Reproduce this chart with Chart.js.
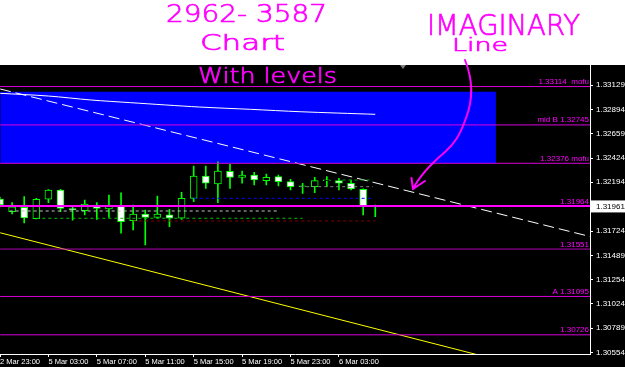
<!DOCTYPE html>
<html>
<head>
<meta charset="utf-8">
<script src="https://cdn.jsdelivr.net/npm/chart.js@4.4.1/dist/chart.umd.min.js"></script>
<style>
  html, body { margin: 0; padding: 0; background: #fff; }
  #wrap { width: 625px; height: 367px; }
</style>
</head>
<body>
<div id="wrap"><canvas id="chart"></canvas></div>
<script>
// H1 candles, 2 Mar 23:00 .. 6 Mar 06:00
const opens  = [1.32032, 1.31910, 1.31953, 1.31843, 1.32030, 1.32119, 1.31940, 1.31920, 1.31975, 1.31936, 1.31965, 1.31824, 1.31888, 1.31856, 1.31879, 1.31847,
                1.32039, 1.32254, 1.32177, 1.32299, 1.32241, 1.32263, 1.32209, 1.32247, 1.32199, 1.32150, 1.32151, 1.32208, 1.32209, 1.32184, 1.32126, 1.31965];
const highs  = [1.32052, 1.31997, 1.32055, 1.32040, 1.32122, 1.32125, 1.31958, 1.32023, 1.31997, 1.32071, 1.32093, 1.31975, 1.31927, 1.32061, 1.31933, 1.32097,
                1.32350, 1.32350, 1.32391, 1.32366, 1.32302, 1.32289, 1.32273, 1.32263, 1.32222, 1.32184, 1.32241, 1.32247, 1.32232, 1.32215, 1.32130, 1.31975];
const lows   = [1.31956, 1.31888, 1.31802, 1.31840, 1.31997, 1.31910, 1.31830, 1.31879, 1.31837, 1.31856, 1.31703, 1.31734, 1.31590, 1.31847, 1.31766, 1.31837,
                1.32007, 1.32135, 1.31997, 1.32135, 1.32184, 1.32167, 1.32167, 1.32158, 1.32119, 1.32087, 1.32093, 1.32151, 1.32119, 1.32119, 1.31879, 1.31862];
const closes = [1.31975, 1.31958, 1.31850, 1.32030, 1.32119, 1.31943, 1.31930, 1.31984, 1.31943, 1.31975, 1.31814, 1.31888, 1.31856, 1.31888, 1.31847, 1.32039,
                1.32254, 1.32184, 1.32302, 1.32241, 1.32263, 1.32215, 1.32241, 1.32199, 1.32151, 1.32160, 1.32209, 1.32216, 1.32184, 1.32129, 1.31965, 1.31961];

const timeTicks  = [0, 4, 8, 12, 16, 20, 24, 28];
const timeLabels = ['2 Mar 23:00', '5 Mar 03:00', '5 Mar 07:00', '5 Mar 11:00', '5 Mar 15:00', '5 Mar 19:00', '5 Mar 23:00', '6 Mar 03:00'];
const priceTicks = [1.33129, 1.32894, 1.32659, 1.32424, 1.32194, 1.31724, 1.31489, 1.31254, 1.31024, 1.30789, 1.30554];
const lastPrice  = 1.31961;

// horizontal levels drawn on the chart
const levelValues = [1.33114, 1.32745, 1.32376, 1.31964, 1.31551, 1.31095, 1.30726];
const levelNames  = ['1.33114  mofu', 'mid B 1.32745', '1.32376 mofu', '1.31964', '1.31551', 'A 1.31095', '1.30726'];

// supply zone rectangle
const zoneTop = 1.33065, zoneBottom = 1.32376, zoneEnd = 40.97;

// trend lines: [x0, y0, x1, y1]
const imaginaryLine = [0, 1.33091, 49, 1.31664];
const yellowLine    = [0, 1.31708, 49, 1.30250];
const avgX = [0, 4, 7.5, 10.8, 16.5, 20.7, 24.8, 31];
const avgY = [1.33049, 1.33023, 1.32985, 1.32959, 1.32917, 1.32895, 1.32872, 1.32847];

// short dotted order lines
const orderPrices = [1.31917, 1.31847, 1.31821, 1.32039, 1.32151, 1.32215];
const orderFrom   = [0.8, 3, 11, 16, 24.8, 28.3];
const orderTo     = [22.9, 25, 31, 30.7, 30.8, 30.8];

const notes = ['2962- 3587', 'Chart', 'With levels', 'IMAGINARY', 'Line'];

const lime = '#00ff00';
const orderColors = ['#c0c0c0', '#00c000', '#800000', '#0000ff', '#808080', '#00a000'];
const levelColors = ['#d800d8', '#d800d8', '#d800d8', '#ff00ff', '#b000b0', '#d800d8', '#d800d8'];
const axisFont = '"Liberation Sans", Arial, sans-serif';

const seg = (x0, y0, x1, y1) => [{ x: x0, y: y0 }, { x: x1, y: y1 }];

const datasets = [];

datasets.push({
  type: 'line', order: 20,
  data: seg(-1, zoneTop, zoneEnd, zoneTop),
  borderWidth: 0, pointRadius: 0,
  backgroundColor: '#0000ff',
  fill: { value: zoneBottom }
});
datasets.push({
  type: 'line', order: 15,
  data: avgX.map((x, i) => ({ x: x, y: avgY[i] })),
  borderColor: '#ffffff', borderWidth: 1, pointRadius: 0, tension: 0.3
});
datasets.push({
  type: 'line', order: 14,
  data: seg(...imaginaryLine),
  borderColor: '#ffffff', borderWidth: 1, borderDash: [11, 5], pointRadius: 0
});
datasets.push({
  type: 'line', order: 13,
  data: seg(...yellowLine),
  borderColor: '#ffff00', borderWidth: 1, pointRadius: 0
});

orderPrices.forEach((p, i) => {
  datasets.push({
    type: 'line', order: 4,
    data: seg(orderFrom[i], p, orderTo[i], p),
    borderColor: orderColors[i], borderWidth: 1, borderDash: [3, 3], pointRadius: 0
  });
});

// wicks
datasets.push({
  type: 'bar', order: 6,
  data: lows.map((l, i) => ({ x: i, y: [l, highs[i]] })),
  backgroundColor: lime, borderWidth: 0, barThickness: 1, grouped: false
});
// bodies: white = down, black = up
datasets.push({
  type: 'bar', order: 5,
  data: opens.map((o, i) => ({ x: i, y: [o, closes[i]] })),
  backgroundColor: opens.map((o, i) => closes[i] < o ? '#ffffff' : '#000000'),
  borderColor: lime, borderWidth: 1, borderSkipped: false,
  barThickness: 7, grouped: false
});

levelValues.forEach((v, i) => {
  datasets.push({
    type: 'line', order: 2,
    data: seg(-1, v, 50, v),
    borderColor: levelColors[i], borderWidth: v === 1.31964 ? 2 : 1, pointRadius: 0
  });
});

const backdrop = {
  id: 'backdrop',
  beforeDraw(chart) {
    const { ctx, width, height, chartArea } = chart;
    ctx.save();
    ctx.fillStyle = '#ffffff';
    ctx.fillRect(0, 0, width, height);
    ctx.fillStyle = '#000000';
    ctx.fillRect(0, chartArea.top, width, height - chartArea.top);
    ctx.restore();
  }
};

const levelTags = {
  id: 'levelTags',
  afterDatasetsDraw(chart) {
    const { ctx, chartArea, scales } = chart;
    ctx.save();
    ctx.font = '8px ' + axisFont;
    ctx.textAlign = 'right';
    ctx.textBaseline = 'alphabetic';
    levelValues.forEach((v, i) => {
      const y = scales.y.getPixelForValue(v);
      ctx.fillStyle = '#ff00ff';
      ctx.fillText(levelNames[i], chartArea.right - 1, y - 2.5);
    });
    // shift marker
    ctx.fillStyle = '#808080';
    ctx.beginPath();
    ctx.moveTo(400, chartArea.top);
    ctx.lineTo(406, chartArea.top);
    ctx.lineTo(403, chartArea.top + 4);
    ctx.closePath();
    ctx.fill();
    ctx.restore();
  }
};

function scrawl(ctx, text, left, right, baseline, size) {
  ctx.font = '200 ' + size + 'px "DejaVu Sans ExtraLight", "DejaVu Sans", sans-serif';
  const w = ctx.measureText(text).width;
  ctx.save();
  ctx.translate(left, baseline);
  ctx.scale((right - left) / w, 1);
  ctx.fillText(text, 0, 0);
  ctx.lineWidth = 0.7;
  ctx.strokeText(text, 0, 0);
  ctx.restore();
}

const scribbles = {
  id: 'scribbles',
  afterDraw(chart) {
    const { ctx, chartArea, scales, width } = chart;
    ctx.save();
    // last price tag
    const py = scales.y.getPixelForValue(lastPrice);
    ctx.fillStyle = '#ffffff';
    ctx.fillRect(chartArea.right + 1, py - 6, width - chartArea.right - 1, 12);
    ctx.fillStyle = '#000000';
    ctx.font = '8px ' + axisFont;
    ctx.textBaseline = 'middle';
    ctx.textAlign = 'left';
    ctx.fillText(lastPrice.toFixed(5), chartArea.right + 6, py + 0.5);

    // handwritten notes
    ctx.fillStyle = '#ff00ff';
    ctx.strokeStyle = '#ff00ff';
    ctx.textBaseline = 'alphabetic';
    scrawl(ctx, notes[0], 166, 327, 22, 25);
    scrawl(ctx, notes[1], 200, 285, 50, 22);
    scrawl(ctx, notes[2], 198, 337, 83, 21);
    scrawl(ctx, notes[3], 427, 580, 35, 29);
    scrawl(ctx, notes[4], 452, 508, 51, 18);

    ctx.lineWidth = 2;
    ctx.lineCap = 'round';
    ctx.lineJoin = 'round';
    ctx.beginPath();
    ctx.moveTo(465, 60);
    ctx.bezierCurveTo(473, 80, 473, 100, 466, 118);
    ctx.bezierCurveTo(460, 135, 455, 143, 445, 152);
    ctx.bezierCurveTo(432, 163, 420, 175, 413, 189);
    ctx.moveTo(411.5, 178);
    ctx.lineTo(413, 189);
    ctx.lineTo(425, 181);
    ctx.stroke();
    ctx.restore();
  }
};

new Chart(document.getElementById('chart'), {
  type: 'bar',
  data: { datasets: datasets },
  plugins: [backdrop, levelTags, scribbles],
  options: {
    responsive: true,
    maintainAspectRatio: false,
    animation: false,
    devicePixelRatio: 1,
    layout: { padding: { top: 65, left: 0, right: 0, bottom: 0 } },
    plugins: { legend: { display: false }, tooltip: { enabled: false } },
    scales: {
      x: {
        type: 'linear',
        min: 0.0165,
        max: 48.74,
        offset: false,
        afterBuildTicks: (scale) => { scale.ticks = timeTicks.map(v => ({ value: v })); },
        afterFit: (scale) => { scale.height = 13; },
        grid: { display: true, drawOnChartArea: false, drawTicks: true, tickLength: 3, color: '#ffffff', offset: false },
        border: { display: true, color: '#ffffff' },
        ticks: {
          autoSkip: false, maxRotation: 0, align: 'start', padding: 0,
          color: '#ffffff',
          font: { family: axisFont, size: 7.5 },
          callback: (v) => timeLabels[timeTicks.indexOf(v)]
        }
      },
      y: {
        type: 'linear',
        position: 'right',
        min: 1.305415,
        max: 1.333214,
        afterBuildTicks: (scale) => { scale.ticks = priceTicks.map(v => ({ value: v })); },
        afterFit: (scale) => { scale.width = 35; },
        grid: { display: true, drawOnChartArea: false, drawTicks: true, tickLength: 3, color: '#ffffff' },
        border: { display: true, color: '#ffffff' },
        ticks: {
          padding: 3,
          color: '#ffffff',
          font: { family: axisFont, size: 8 },
          callback: (v) => v.toFixed(5)
        }
      }
    }
  }
});
</script>
</body>
</html>
